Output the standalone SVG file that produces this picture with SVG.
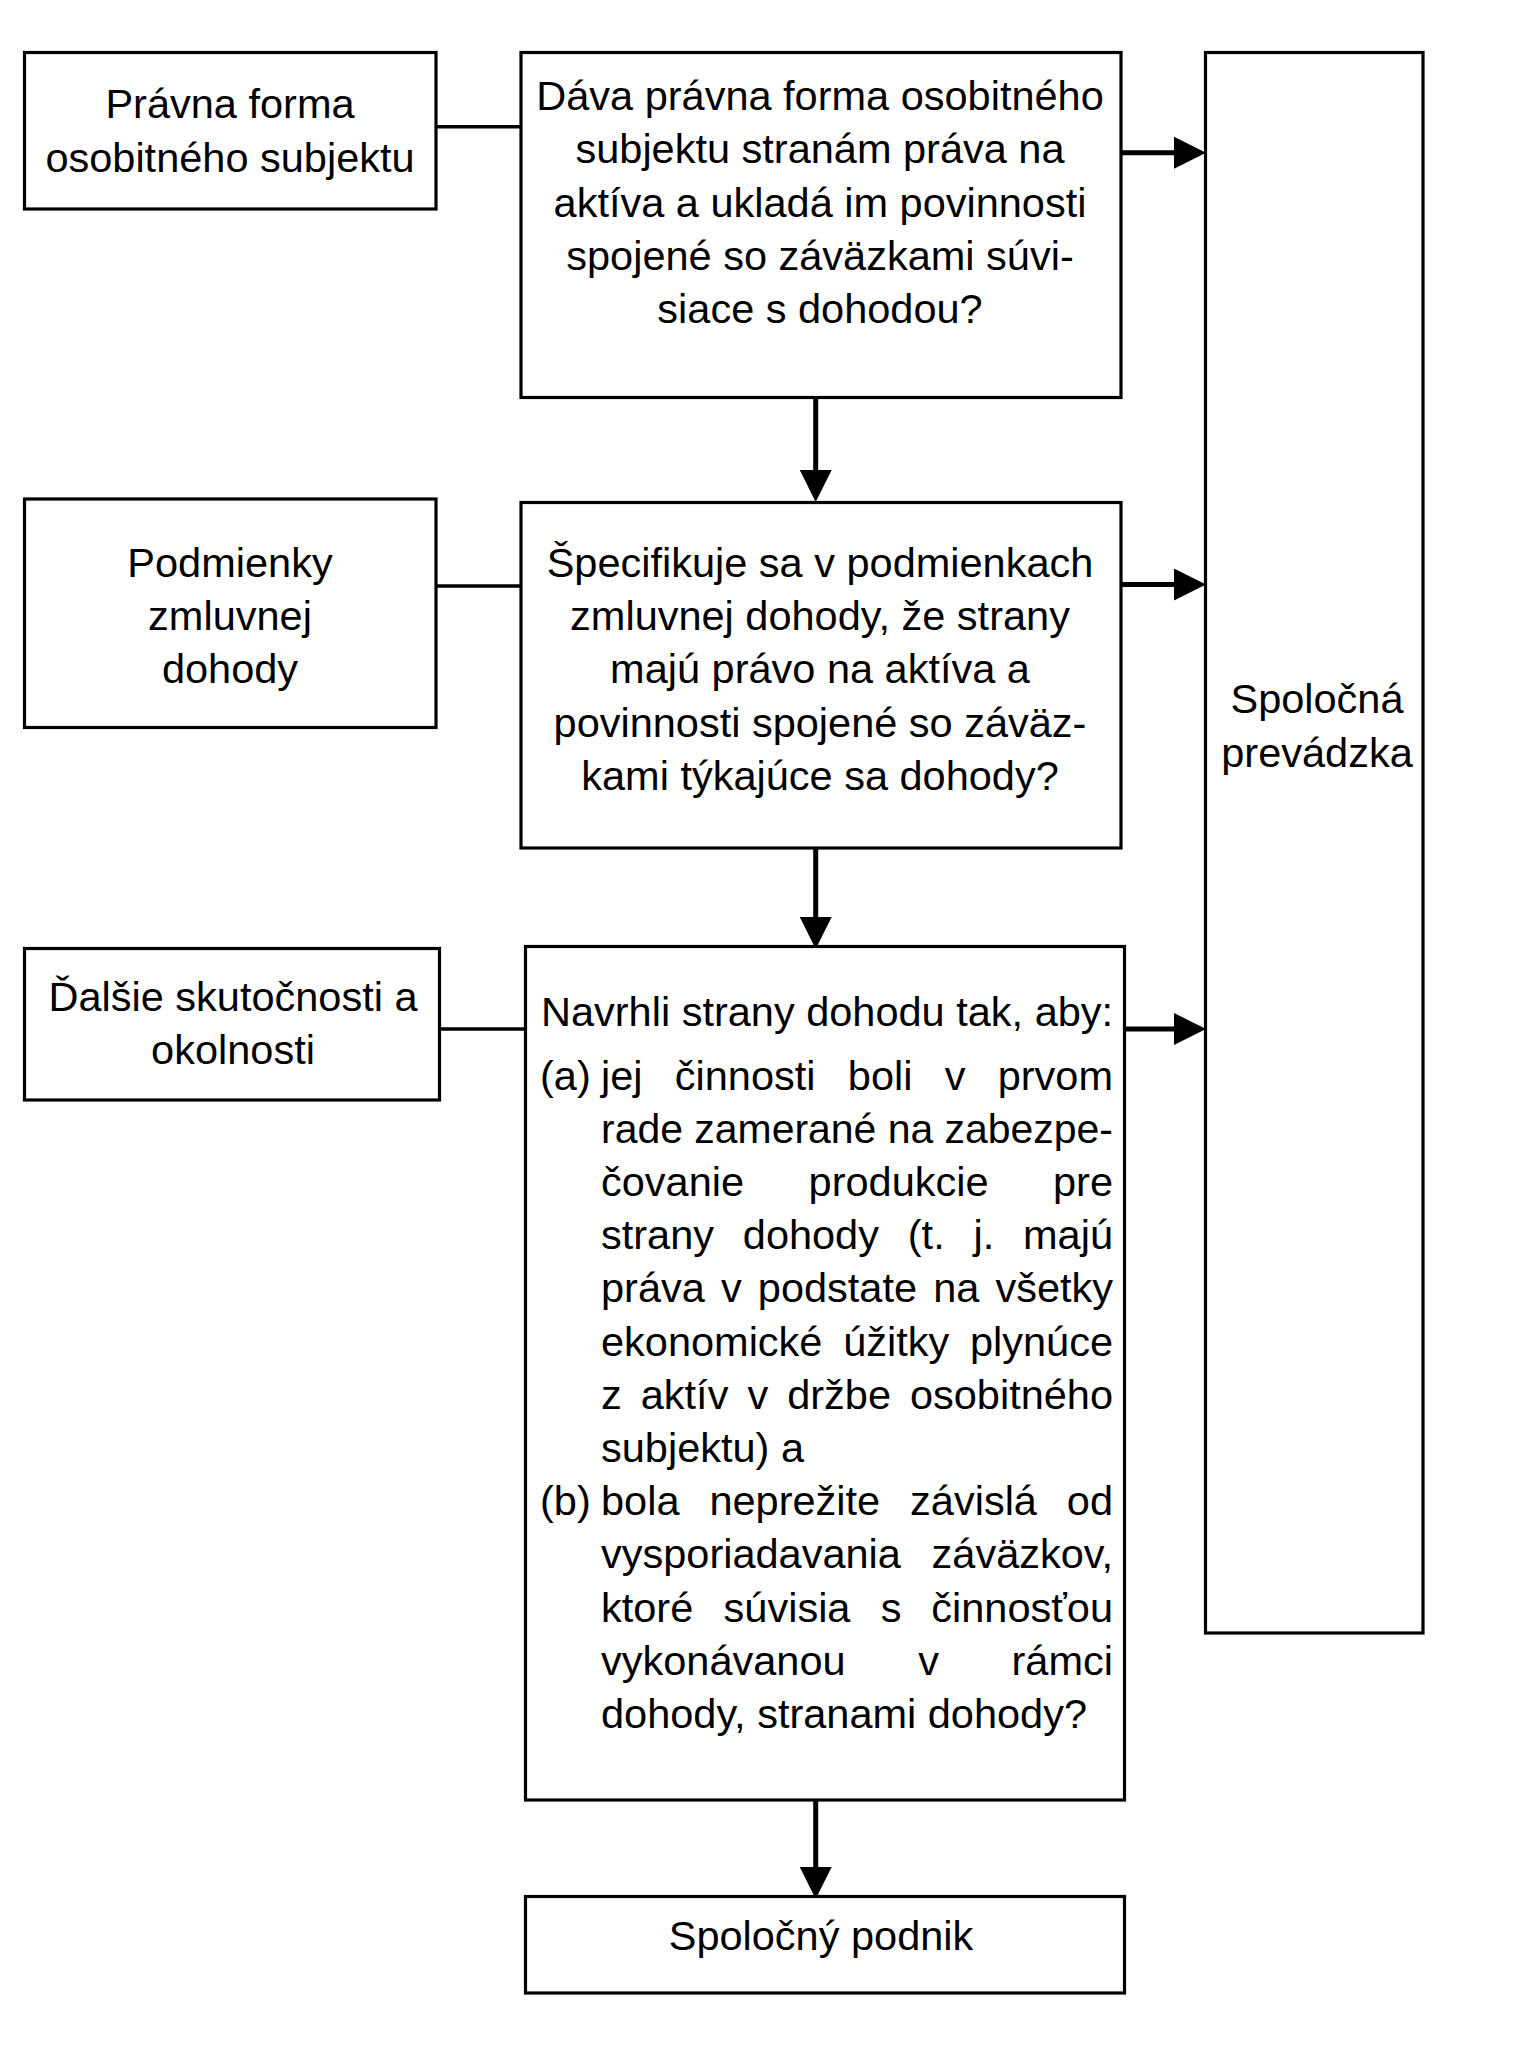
<svg xmlns="http://www.w3.org/2000/svg" width="1540" height="2047" viewBox="0 0 1540 2047">
<style>
.box{fill:#fff;stroke:#000;stroke-width:3.2}
.t{font-family:"Liberation Sans",Arial,Helvetica,sans-serif;font-size:41.5px;fill:#000}
.c{text-anchor:middle}
.e{text-anchor:end}
.ln{fill:none;stroke:#000;stroke-width:3.5}
.ar{fill:none;stroke:#000;stroke-width:5;marker-end:url(#ah)}
</style>
<defs>
<marker id="ah" markerUnits="userSpaceOnUse" viewBox="0 0 32 32" refX="22" refY="16" markerWidth="32" markerHeight="32" orient="auto">
<path d="M0,0 L32,16 L0,32 Z" fill="#000"/>
</marker>
</defs>
<rect width="1540" height="2047" fill="#fff"/>
<g id="connectors">
<path class="ln" d="M436,126.7 H521"/>
<path class="ln" d="M436,586 H521"/>
<path class="ln" d="M440,1029 H525.5"/>
<path class="ar" d="M1121,152.7 H1196"/>
<path class="ar" d="M1121,584.5 H1196"/>
<path class="ar" d="M1125,1029 H1196"/>
<path class="ar" d="M815.7,397.7 V492"/>
<path class="ar" d="M815.7,848 V939"/>
<path class="ar" d="M815.7,1800 V1889"/>
</g>
<g id="n_pravna">
<rect class="box" x="24.5" y="52.5" width="411.5" height="156.5"/>
<text class="t c" x="230" y="118.3">Právna forma</text>
<text class="t c" x="230" y="171.7">osobitného subjektu</text>
</g>
<g id="n_dava">
<rect class="box" x="521" y="52.5" width="600" height="345"/>
<text class="t c" x="820" y="110">Dáva právna forma osobitného</text>
<text class="t c" x="820" y="163.3">subjektu stranám práva na</text>
<text class="t c" x="820" y="216.6">aktíva a ukladá im povinnosti</text>
<text class="t c" x="820" y="270">spojené so záväzkami súvi-</text>
<text class="t c" x="820" y="323.3">siace s dohodou?</text>
</g>
<g id="n_spolocna">
<rect class="box" x="1205.5" y="52.5" width="217.5" height="1580.5"/>
<text class="t c" x="1317" y="713.3">Spoločná</text>
<text class="t c" x="1317" y="766.7">prevádzka</text>
</g>
<g id="n_podmienky">
<rect class="box" x="24.5" y="499" width="411.5" height="228.5"/>
<text class="t c" x="230" y="576.7">Podmienky</text>
<text class="t c" x="230" y="630">zmluvnej</text>
<text class="t c" x="230" y="683.3">dohody</text>
</g>
<g id="n_specifikuje">
<rect class="box" x="521" y="502.5" width="600" height="345.5"/>
<text class="t c" x="820" y="576.7">Špecifikuje sa v podmienkach</text>
<text class="t c" x="820" y="630">zmluvnej dohody, že strany</text>
<text class="t c" x="820" y="683.3">majú právo na aktíva a</text>
<text class="t c" x="820" y="736.6">povinnosti spojené so záväz-</text>
<text class="t c" x="820" y="790">kami týkajúce sa dohody?</text>
</g>
<g id="n_dalsie">
<rect class="box" x="24.5" y="948.5" width="415" height="151.5"/>
<text class="t c" x="233" y="1010.5">Ďalšie skutočnosti a</text>
<text class="t c" x="233" y="1063.5">okolnosti</text>
</g>
<g id="n_navrhli">
<rect class="box" x="525.5" y="946.5" width="599" height="853.5"/>
<text class="t" x="541" y="1025.5">Navrhli strany dohodu tak, aby:</text>
<text class="t" y="1089.5"><tspan x="540">(a)</tspan><tspan x="601">jej</tspan><tspan x="674.8">činnosti</tspan><tspan x="847.8">boli</tspan><tspan x="944.7">v</tspan></text>
<text class="t e" x="1113" y="1089.5">prvom</text>
<text class="t" x="601" y="1142.7" textLength="512" lengthAdjust="spacingAndGlyphs">rade zamerané na zabezpe-</text>
<text class="t" y="1195.9"><tspan x="601">čovanie</tspan><tspan x="808.6">produkcie</tspan></text>
<text class="t e" x="1113" y="1195.9">pre</text>
<text class="t" y="1249.1"><tspan x="601">strany</tspan><tspan x="742.8">dohody</tspan><tspan x="907.8">(t.</tspan><tspan x="973.5">j.</tspan></text>
<text class="t e" x="1113" y="1249.1">majú</text>
<text class="t" y="1302.3"><tspan x="601">práva</tspan><tspan x="720.9">v</tspan><tspan x="757.8">podstate</tspan><tspan x="933.2">na</tspan></text>
<text class="t e" x="1113" y="1302.3">všetky</text>
<text class="t" y="1355.5"><tspan x="601">ekonomické</tspan><tspan x="843.2">úžitky</tspan></text>
<text class="t e" x="1113" y="1355.5">plynúce</text>
<text class="t" y="1408.7"><tspan x="601">z</tspan><tspan x="640.75">aktív</tspan><tspan x="747.4">v</tspan><tspan x="787.2">držbe</tspan></text>
<text class="t e" x="1113" y="1408.7">osobitného</text>
<text class="t" x="601" y="1461.9">subjektu) a</text>
<text class="t" y="1515.1"><tspan x="540">(b)</tspan><tspan x="601">bola</tspan><tspan x="709.4">neprežite</tspan><tspan x="910.1">závislá</tspan></text>
<text class="t e" x="1113" y="1515.1">od</text>
<text class="t" x="601" y="1568.3">vysporiadavania</text>
<text class="t e" x="1113" y="1568.3">záväzkov,</text>
<text class="t" y="1621.5"><tspan x="601">ktoré</tspan><tspan x="723.6">súvisia</tspan><tspan x="880.7">s</tspan></text>
<text class="t e" x="1113" y="1621.5">činnosťou</text>
<text class="t" y="1674.7"><tspan x="601">vykonávanou</tspan><tspan x="918.2">v</tspan></text>
<text class="t e" x="1113" y="1674.7">rámci</text>
<text class="t" x="601" y="1727.9">dohody, stranami dohody?</text>
</g>
<g id="n_podnik">
<rect class="box" x="525.5" y="1896.5" width="599" height="96.5"/>
<text class="t c" x="821" y="1950">Spoločný podnik</text>
</g>
</svg>
